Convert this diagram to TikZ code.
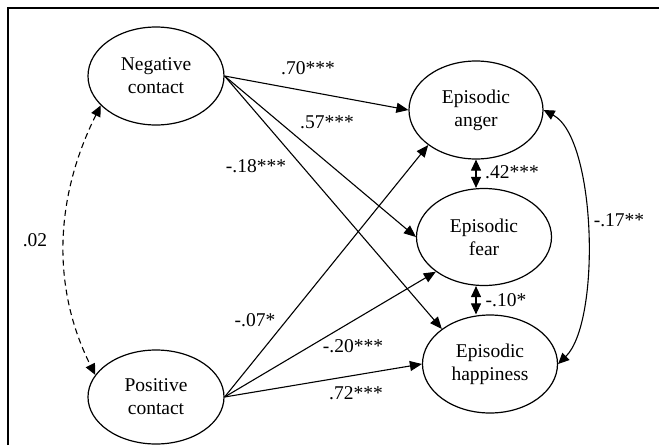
\documentclass[tikz,border=0pt]{standalone}
\usepackage{fontspec}
\setmainfont{Liberation Serif}
\usetikzlibrary{shapes.geometric,arrows.meta}
\begin{document}
\begin{tikzpicture}[x=1pt,y=-1pt,
  every node/.style={font=\fontsize{19.5}{23}\selectfont},
  latent/.style={ellipse,draw,line width=1.2pt,inner sep=0pt,align=center},
  path/.style={line width=1.1pt,-{Triangle[length=12pt,width=10pt]}},
  cov/.style={line width=1.1pt,{Triangle[length=11pt,width=10pt]}-{Triangle[length=11pt,width=10pt]}},
  lab/.style={inner sep=1pt}]
\useasboundingbox (0,0) rectangle (659,445);
\fill[white] (0,0) rectangle (659,445);
\draw[line width=1.3pt] (8,445) -- (8,8) -- (659,8);

\node[latent,minimum width=136pt,minimum height=98pt] (neg) at (156,76) {Negative\\contact};
\node[latent,minimum width=136pt,minimum height=94pt] (pos) at (156,397) {Positive\\contact};
\node[latent,minimum width=134pt,minimum height=98pt] (anger) at (476,110) {Episodic\\anger};
\node[latent,minimum width=135pt,minimum height=97pt] (fear) at (484,237) {Episodic\\fear};
\node[latent,minimum width=135pt,minimum height=98pt] (hap) at (490,364) {Episodic\\happiness};

\draw[path] (neg.east) -- (anger.west);
\draw[path] (neg.east) -- (fear.west);
\draw[path] (neg.east) -- (hap.north west);
\draw[path] (pos.east) -- (anger.south west);
\draw[path] (pos.east) -- (fear.south west);
\draw[path] (pos.east) -- (hap.west);

\draw[cov] (anger.south) -- (anger.south |- fear.north);
\draw[cov] (fear.south -| anger.south) -- (hap.north -| anger.south);

\draw[cov] (anger.east) .. controls +(53,28) and +(43,-42) .. (hap.east);
\draw[cov,dash pattern=on 6pt off 4pt] (neg.208) .. controls +(-45,90) and +(-45,-90) .. (pos.160);

\node[lab] (l70) at (308,68) {.70***};
\node[lab] (l57) at (327,122) {.57***};
\node[lab] (l18) at (256,166) {-.18***};
\node[lab] (l07) at (255,320) {-.07*};
\node[lab] (l20) at (353,346) {-.20***};
\node[lab] (l72) at (356,393) {.72***};
\node[lab] (l02) at (35,240) {.02};
\node[lab] (l42) at (512,172) {.42***};
\node[lab] (l10) at (506,300) {-.10*};
\node[lab] (l17) at (619,220) {-.17**};
\end{tikzpicture}
\end{document}
